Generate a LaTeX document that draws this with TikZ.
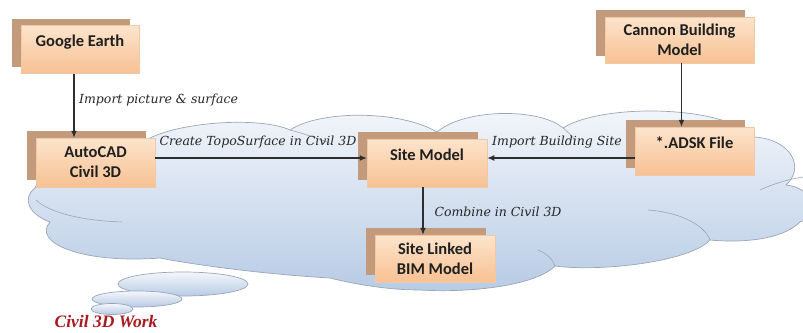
\documentclass[tikz,border=0pt]{standalone}
\usepackage{fontspec}
\setmainfont{Carlito}
\newfontfamily\lblfont{DejaVu Serif}
\newfontfamily\redfont{Liberation Serif}
\usetikzlibrary{shadows,arrows.meta}
\definecolor{shc}{HTML}{C49A7C}
\definecolor{boxtop}{HTML}{FDE4CC}
\definecolor{boxbot}{HTML}{F7C193}
\definecolor{boxline}{HTML}{F0C8A4}
\definecolor{cloudtop}{HTML}{F4F7FB}
\definecolor{cloudbot}{HTML}{B7CBE5}
\definecolor{cloudline}{HTML}{9AA6B6}
\definecolor{arrc}{HTML}{2E2E2E}
\definecolor{redc}{HTML}{A8181E}
\tikzset{
  boxbase/.style={rectangle, top color=boxtop, bottom color=boxbot, draw=boxline, line width=0.5pt,
    general shadow={fill=shc, shadow xshift=-9pt, shadow yshift=7pt},
    font=\fontsize{16.5}{20}\selectfont\bfseries, text=black!88, inner xsep=0pt},
  onebox/.style={boxbase, inner ysep=0pt, text height=21pt, text depth=#1},
  twobox/.style={boxbase, align=center, inner ysep=0pt},
  arr/.style={draw=arrc, line width=1.2pt, -{Latex[length=7pt,width=6pt]}},
  lbl/.style={font=\lblfont\itshape\fontsize{12.5}{14}\selectfont, text=black!85, inner sep=1pt},
  cloudfill/.style={top color=cloudtop, bottom color=cloudbot, draw=cloudline, line width=0.7pt},
  inner/.style={draw=cloudline, line width=0.6pt}
}
\begin{document}
\begin{tikzpicture}[x=1pt,y=-1pt]
\useasboundingbox (0,0) rectangle (803,332);
% main cloud
\path[cloudfill] (150,138)
  .. controls (185,121) and (262,117) .. (290,130)
  .. controls (320,110) and (400,110) .. (437,132)
  .. controls (465,108) and (540,108) .. (563,128)
  .. controls (600,104) and (720,104) .. (755,137)
  .. controls (792,140) and (805,168) .. (786,185)
  .. controls (815,188) and (818,215) .. (800,222)
  .. controls (782,240) and (742,243) .. (710,240)
  .. controls (690,262) and (600,272) .. (555,266)
  .. controls (535,286) and (470,293) .. (420,290)
  .. controls (385,290) and (350,283) .. (330,278)
  .. controls (260,274) and (190,264) .. (160,258)
  .. controls (80,264) and (32,242) .. (50,222)
  .. controls (28,214) and (22,198) .. (35,188)
  .. controls (42,168) and (100,148) .. (150,138) -- cycle;
% inner arcs
\draw[inner] (36,200) .. controls (52,215) and (90,221) .. (122,222);
\draw[inner] (290,130) .. controls (305,134) and (320,139) .. (332,144);
\draw[inner] (563,128) .. controls (568,132) and (572,136) .. (575,140);
\draw[inner] (760,190) .. controls (775,183) and (790,179) .. (803,177);
\draw[inner] (648,210) .. controls (678,212) and (704,224) .. (710,240);
\draw[inner] (538,250) .. controls (548,254) and (553,260) .. (555,266);
% small puffs
\path[cloudfill] (183,284) ellipse [x radius=65, y radius=12];
\path[cloudfill] (137,299) ellipse [x radius=45, y radius=8];
\path[cloudfill] (112,309) ellipse [x radius=21, y radius=5.5];
% boxes
\node[onebox=27pt, minimum width=118pt] (ge) at (80,49.5) {Google Earth};
\node[twobox, minimum width=119pt, minimum height=49pt] (ac) at (95.5,162.5) {AutoCAD\\Civil 3D};
\node[onebox=27pt, minimum width=120pt] (site) at (427,163) {Site Model};
\node[twobox, minimum width=149pt, minimum height=46pt] (cb) at (679.5,40) {Cannon Building\\Model};
\node[onebox=27pt, minimum width=119pt] (adsk) at (694.5,151) {*.ADSK File};
\node[twobox, minimum width=120pt, minimum height=47pt] (sl) at (435,258.5) {Site Linked\\BIM Model};
% arrows
\draw[arr] ([xshift=-6pt]ge.south) -- ([xshift=-6pt]ge.south |- ac.north);
\draw[arr] ([yshift=4.5pt]ac.east) -- ([yshift=4.5pt]ac.east -| site.west);
\draw[arr] ([xshift=2pt]cb.south) -- ([xshift=2pt]cb.south |- adsk.north);
\draw[arr] ([yshift=-7pt]adsk.west) -- ([yshift=-7pt]adsk.west -| site.east);
\draw[arr] ([xshift=-4pt]site.south) -- ([xshift=-4pt]site.south |- sl.north);
% labels
\node[lbl, anchor=west] (l1) at (78,100) {Import picture \& surface};
\node[lbl] (l2) at (258,142) {Create TopoSurface in Civil 3D};
\node[lbl] (l3) at (557,142) {Import Building Site};
\node[lbl] (l4) at (498,212) {Combine in Civil 3D};
\node[font=\redfont\bfseries\itshape\fontsize{17.5}{20}\selectfont, text=redc, inner sep=0pt] (cw) at (106,321.5) {Civil 3D Work};
\end{tikzpicture}
\end{document}
